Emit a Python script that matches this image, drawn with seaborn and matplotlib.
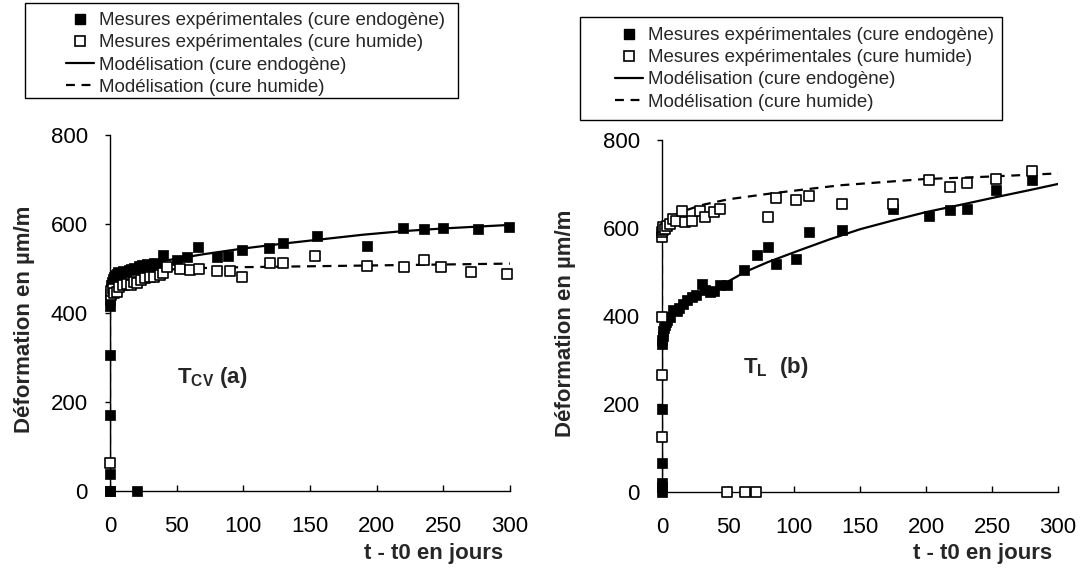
import seaborn as sns
import matplotlib.pyplot as plt
from matplotlib.lines import Line2D
from matplotlib.patches import Rectangle

# ---- (a) T_CV ----
a_endo_t = [0, 0, 0, 0, 0, 0.2, 0.3, 0.5, 0.7, 1, 1.5, 2, 3, 4, 5, 6, 8, 10, 12, 14, 16, 18, 20,
            22, 24, 26, 28, 30, 33, 36, 40, 20, 50, 58, 66, 80, 88.5, 99, 119, 129.5, 155, 192.5,
            220, 235.5, 250, 276, 299]
a_endo_y = [0, 0, 38, 170, 305, 415, 430, 445, 455, 462, 470, 476, 480, 485, 488, 492, 490, 495, 493,
            497, 500, 502, 498, 505, 507, 505, 510, 508, 512, 510, 530, 0, 520, 525, 549, 526, 528, 541,
            546, 558, 573, 550, 591, 589, 591, 589, 593]
a_hum_t = [0, 0.5, 1, 2, 3, 5, 7, 10, 13, 16, 18, 20, 23, 26, 30, 33, 37.5, 40, 42.5, 52.5, 60, 67,
           80, 90, 99, 120, 129.5, 154, 192.5, 220.5, 235.5, 248, 271, 297.5]
a_hum_y = [64, 440, 450, 455, 445, 448, 458, 462, 465, 463, 470, 468, 475, 478, 481, 480, 485, 490,
           504, 498, 497, 498, 495, 495, 482, 513, 512, 528, 505, 504, 519, 504, 493, 487]
a_mod_endo_t = [0, 0, 0.3, 1, 2, 4, 7, 10, 15, 20, 30, 40, 50, 70, 100, 130, 160, 190, 220, 250, 300]
a_mod_endo_y = [0, 420, 445, 460, 470, 480, 487, 492, 498, 502, 510, 517, 522, 532, 545, 556, 566,
                576, 584, 590, 598]
a_mod_hum_t = [0, 0, 0.3, 1, 2, 4, 7, 10, 15, 20, 30, 40, 60, 80, 100, 150, 200, 250, 300]
a_mod_hum_y = [0, 430, 445, 455, 462, 470, 477, 482, 487, 490, 494, 497, 500, 502, 503, 505, 507,
               509, 511]

# ---- (b) T_L ----
b_endo_t = [0, 0, 0, 0, 0, 0, 0.3, 0.5, 1, 1.5, 2, 3, 4, 6, 8.6, 11, 13, 16, 19, 22.5, 26, 30, 32.8,
            36, 39.4, 44, 49.5, 62.4, 71.7, 80.5, 86.4, 101.5, 111.6, 136, 175, 202.5, 218, 231, 253,
            280]
b_endo_y = [0, 10, 20, 65, 188, 335, 345, 355, 365, 372, 380, 385, 390, 398, 413, 410, 418, 428, 435,
            443, 448, 472, 458, 455, 457, 470, 470, 504, 538, 557, 517, 530, 590, 595, 644, 627, 640,
            642, 686, 708]
b_hum_t = [0, 0, 0, 0, 0, 0.5, 1, 2, 4, 6, 8.6, 10.6, 15, 17.4, 22.5, 28.8, 32.8, 39.4, 44, 49, 63,
           71, 80.5, 86.4, 101.5, 111.6, 136, 175, 202.5, 218, 231, 253, 280]
b_hum_y = [125, 265, 398, 580, 590, 595, 602, 598, 605, 610, 621, 616, 639, 614, 616, 639, 625, 636,
           642, 0, 0, 0, 624, 668, 664, 673, 655, 654, 708, 693, 702, 712, 729]
b_mod_endo_t = [0, 0, 0.5, 1, 2, 5, 10, 15, 20, 30, 40, 50, 63, 80, 104, 127, 150, 175, 200, 230, 253,
                280, 300]
b_mod_endo_y = [0, 335, 365, 375, 385, 400, 412, 422, 432, 450, 462, 478, 500, 522, 549, 574, 597, 617,
                636, 655, 670, 687, 700]
b_mod_hum_t = [0, 0, 0.3, 1, 2, 5, 10, 20, 30, 50, 84, 135, 198, 250, 300]
b_mod_hum_y = [0, 595, 600, 605, 610, 620, 630, 642, 652, 665, 679, 697, 711, 717, 724]

labels = ["Mesures expérimentales (cure endogène)",
          "Mesures expérimentales (cure humide)",
          "Modélisation (cure endogène)",
          "Modélisation (cure humide)"]
x_ticks = [0, 50, 100, 150, 200, 250, 300]
y_ticks = [0, 200, 400, 600, 800]

sns.set_style("ticks")
plt.rcParams['font.family'] = ['Liberation Sans', 'DejaVu Sans']
plt.rcParams['mathtext.fontset'] = 'custom'
plt.rcParams['mathtext.rm'] = 'Liberation Sans'
plt.rcParams['mathtext.bf'] = 'Liberation Sans:bold'

W, H = 1087, 569
fig = plt.figure(figsize=(W / 100, H / 100), dpi=100)
ax1 = fig.add_axes([110 / W, 1 - 491 / H, 400 / W, 356 / H])
ax2 = fig.add_axes([662 / W, 1 - 491.7 / H, 396 / W, 351.7 / H])

dash = (0, (4, 3))


def draw(ax, et, ey, ht, hy, met, mey, mht, mhy, note, note_xy):
    sns.lineplot(x=met, y=mey, ax=ax, color='black', lw=1.6, estimator=None, sort=False,
                 legend=False, zorder=2)
    sns.lineplot(x=mht, y=mhy, ax=ax, color='black', lw=1.6, ls=dash, estimator=None, sort=False,
                 legend=False, zorder=2)
    sns.scatterplot(x=et, y=ey, ax=ax, marker='s', s=55, color='black', edgecolor='black',
                    linewidth=0.5, clip_on=False, zorder=3, legend=False)
    sns.scatterplot(x=ht, y=hy, ax=ax, marker='s', s=48, color='black', facecolor='white',
                    edgecolor='black', linewidth=1.2, clip_on=False, zorder=4, legend=False)
    ax.set_xlim(0, 300)
    ax.set_ylim(0, 800)
    ax.set_xticks(x_ticks)
    ax.set_yticks(y_ticks)
    ax.tick_params(axis='x', direction='in', length=4.5, width=1, pad=18, labelsize=16,
                   color='black', labelcolor='black')
    ax.tick_params(axis='y', direction='out', length=3.5, width=1, pad=12.5, labelsize=16,
                   color='black', labelcolor='black')
    sns.despine(ax=ax)
    for s in ['left', 'bottom']:
        ax.spines[s].set_color('black')
        ax.spines[s].set_linewidth(1)
    ax.set_xlabel("t - t0 en jours", fontsize=16, fontweight='bold', ha='right', va='center')
    ax.set_ylabel("Déformation en µm/m", fontsize=16, fontweight='bold', va='center')
    ax.text(note_xy[0], note_xy[1], note, fontsize=16, fontweight='bold', ha='left', va='center')


draw(ax1, a_endo_t, a_endo_y, a_hum_t, a_hum_y, a_mod_endo_t, a_mod_endo_y,
     a_mod_hum_t, a_mod_hum_y, r"$\mathbf{T_{CV}}$ (a)", (50, 254))
draw(ax2, b_endo_t, b_endo_y, b_hum_t, b_hum_y, b_mod_endo_t, b_mod_endo_y,
     b_mod_hum_t, b_mod_hum_y, r"$\mathbf{T_{L}}$  (b)", (61, 283))

ax1.xaxis.set_label_coords(1 - 7 / 400, (491 - 553) / 356)
ax1.yaxis.set_label_coords((25 - 110) / 400, (491 - 319) / 356)
ax2.xaxis.set_label_coords(1 - 6 / 396, (491.7 - 553) / 351.7)
ax2.yaxis.set_label_coords((565 - 662) / 396, (491.7 - 323) / 351.7)

handles = [Line2D([], [], marker='s', ls='none', mfc='black', mec='black', ms=6.5),
           Line2D([], [], marker='s', ls='none', mfc='white', mec='black', ms=6.5, mew=1.2),
           Line2D([], [], color='black', lw=1.6),
           Line2D([], [], color='black', lw=1.6, ls=dash)]

# legends with Excel-like boxes
for (lx, ly, bx0, by0, bx1, by1) in [(66, 12, 25, 3, 458, 98), (615, 27, 580, 17, 1002, 120)]:
    fig.legend(handles, labels, loc='upper left', bbox_to_anchor=(lx / W, 1 - ly / H),
               frameon=False, fontsize=13.5, handlelength=1.5, handletextpad=0.25,
               labelspacing=0.27, borderpad=0, borderaxespad=0)
    fig.add_artist(Rectangle((bx0 / W, 1 - by1 / H), (bx1 - bx0) / W, (by1 - by0) / H,
                             transform=fig.transFigure, fill=False, edgecolor='black', lw=1))

fig.savefig("out.png", dpi=100)
